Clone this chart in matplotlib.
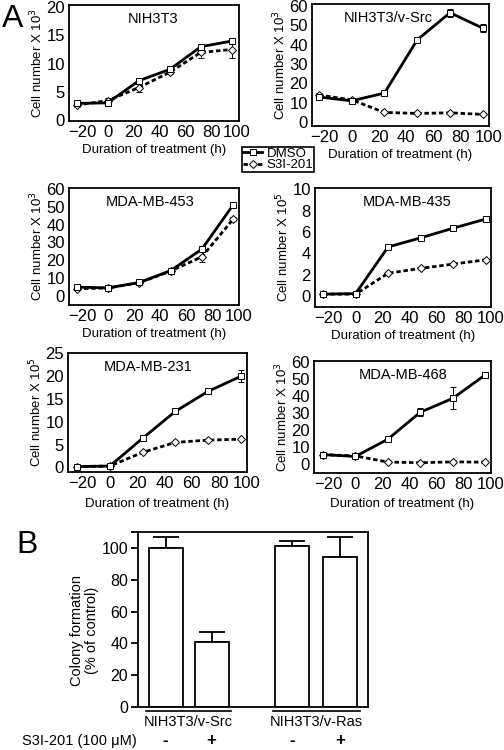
import matplotlib
matplotlib.use("Agg")
import matplotlib.pyplot as plt
from matplotlib.lines import Line2D
import matplotlib.transforms as mtransforms

plt.rcParams['font.family'] = ['Liberation Sans', 'DejaVu Sans']

# ---------------- data ----------------
hours = [-24, 0, 24, 48, 72, 96]

titles = ["NIH3T3", "NIH3T3/v-Src", "MDA-MB-453", "MDA-MB-435", "MDA-MB-231", "MDA-MB-468"]
exponents = [3, 3, 3, 5, 5, 3]

dmso_nih = [3.0, 3.1, 7.0, 9.0, 13.0, 14.0]
dmso_nih_err = [0.3, 0.5, 0.4, 0.3, 0.5, 0.3]
s3i_nih = [2.7, 3.5, 5.8, 8.5, 12.0, 12.5]
s3i_nih_err = [0.3, 0.5, 0.8, 0.4, 1.0, 1.5]

dmso_src = [13.0, 11.0, 15.0, 42.5, 56.5, 48.5]
dmso_src_err = [1.0, 1.0, 1.0, 1.0, 2.0, 2.0]
s3i_src = [14.0, 11.5, 5.0, 4.5, 4.8, 4.0]
s3i_src_err = [1.0, 0.5, 0.5, 0.3, 0.5, 0.5]

dmso_453 = [5.0, 4.6, 7.6, 14.2, 26.3, 51.0]
dmso_453_err = [0.5, 0.5, 0.5, 0.5, 1.0, 1.0]
s3i_453 = [4.1, 4.5, 7.5, 14.0, 22.0, 43.0]
s3i_453_err = [0.5, 0.5, 0.5, 0.5, 3.0, 1.0]

dmso_435 = [0.2, 0.25, 4.6, 5.45, 6.35, 7.2]
dmso_435_err = [0.05, 0.05, 0.1, 0.15, 0.1, 0.15]
s3i_435 = [0.2, 0.2, 2.15, 2.6, 3.0, 3.4]
s3i_435_err = [0.05, 0.05, 0.1, 0.1, 0.1, 0.1]

dmso_231 = [0.2, 0.3, 6.4, 12.3, 16.7, 20.0]
dmso_231_err = [0.2, 0.2, 0.5, 0.3, 0.3, 1.3]
s3i_231 = [0.2, 0.3, 3.3, 5.5, 6.0, 6.2]
s3i_231_err = [0.1, 0.1, 0.2, 0.2, 0.2, 0.2]

dmso_468 = [5.3, 4.2, 14.4, 30.4, 38.6, 52.5]
dmso_468_err = [0.5, 1.5, 1.0, 2.5, 6.5, 1.0]
s3i_468 = [5.3, 4.5, 0.9, 0.5, 1.0, 0.8]
s3i_468_err = [0.3, 0.3, 0.3, 0.3, 0.3, 0.3]

dmso_all = [dmso_nih, dmso_src, dmso_453, dmso_435, dmso_231, dmso_468]
dmso_err_all = [dmso_nih_err, dmso_src_err, dmso_453_err, dmso_435_err, dmso_231_err, dmso_468_err]
s3i_all = [s3i_nih, s3i_src, s3i_453, s3i_435, s3i_231, s3i_468]
s3i_err_all = [s3i_nih_err, s3i_src_err, s3i_453_err, s3i_435_err, s3i_231_err, s3i_468_err]

xticks_A = [-20, 0, 20, 40, 60, 80, 100]
yticks_all = [[0, 5, 10, 15, 20], [0, 10, 20, 30, 40, 50, 60], [0, 10, 20, 30, 40, 50, 60],
              [0, 2, 4, 6, 8, 10], [0, 5, 10, 15, 20, 25], [0, 10, 20, 30, 40, 50, 60]]

# panel B
groups = ["NIH3T3/v-Src", "NIH3T3/v-Ras"]
treat = ["-", "+", "-", "+"]
colony = [100, 41, 101, 94.5]
colony_err = [7, 6, 3.5, 12.5]
yticks_B = [0, 20, 40, 60, 80, 100]

# ---------------- layout ----------------
W, H = 504, 750
fig = plt.figure(figsize=(W / 100, H / 100), dpi=100)

def px_axes(l, t, r, b):
    return fig.add_axes([l / W, 1 - b / H, (r - l) / W, (b - t) / H])

boxes = [(69, 5, 239, 121), (312, 4, 489, 126),
         (69, 188, 239, 305), (315, 188, 491, 307),
         (68, 353, 247, 472), (314, 361, 491, 473)]
xlims = [(-30, 101.5), (-29, 100.5), (-30, 100.5), (-30, 99.7), (-30.6, 100.4), (-30.6, 100.4)]
ylims = [(-0.1, 20.35), (-2, 61), (-5, 60.5), (-1, 10.1), (-1, 25.1), (-5.6, 60.8)]
title_cx = [153, 388, 150, 407, 148, 403]
xlabel_pad = [3, 3, 3, 3, 5, 4]

for i in range(6):
    ax = px_axes(*boxes[i])
    ax.errorbar(hours, s3i_all[i], yerr=s3i_err_all[i], color='black', lw=2.0,
                ls=(0, (1.6, 1.0)), marker='D', markersize=3.6, mfc='white', mec='black',
                mew=0.7, ecolor='black', elinewidth=0.7, capsize=2.5, capthick=0.7, zorder=3)
    ax.errorbar(hours, dmso_all[i], yerr=dmso_err_all[i], color='black', lw=2.0,
                ls='-', marker='s', markersize=4.2, mfc='white', mec='black',
                mew=0.7, ecolor='black', elinewidth=0.7, capsize=2.5, capthick=0.7, zorder=4)
    ax.set_xlim(*xlims[i])
    ax.set_ylim(*ylims[i])
    ax.set_xticks(xticks_A)
    ax.set_yticks(yticks_all[i])
    ax.tick_params(axis='both', length=0, labelsize=12)
    ax.tick_params(axis='x', pad=3)
    ax.tick_params(axis='y', pad=3)
    for s in ax.spines.values():
        s.set_linewidth(1.3)
    l, t, r, b = boxes[i]
    ax.text((title_cx[i] - l) / (r - l), 0.94, titles[i], transform=ax.transAxes,
            ha='center', va='top', fontsize=10.5)
    ax.set_xlabel("Duration of treatment (h)", fontsize=9.5, labelpad=xlabel_pad[i])
    ax.set_ylabel("Cell number X 10$^{%d}$" % exponents[i], fontsize=9.5, labelpad=1)

# legend
handles = [Line2D([], [], color='black', lw=2.0, ls='-', marker='s', markersize=4.2,
                  mfc='white', mec='black', mew=0.7),
           Line2D([], [], color='black', lw=2.0, ls=(0, (1.6, 1.0)), marker='D', markersize=3.6,
                  mfc='white', mec='black', mew=0.7)]
leg = fig.legend(handles, ["DMSO", "S3I-201"], loc='upper left',
                 bbox_to_anchor=(242 / W, 1 - 147 / H), fontsize=9.5, frameon=True,
                 fancybox=False, edgecolor='black', framealpha=1, borderpad=0.05,
                 handlelength=1.5, handletextpad=0.3, labelspacing=-0.05, borderaxespad=0)
leg.get_frame().set_linewidth(1.2)

# panel B
axB = px_axes(138, 532, 368, 707)
pos = [1, 2, 3.75, 4.8]
axB.bar(pos, colony, width=0.74, color='white', edgecolor='black', linewidth=1.3, zorder=2)
axB.errorbar(pos, colony, yerr=[[0] * 4, colony_err], fmt='none', ecolor='black',
             elinewidth=1.3, capsize=9.2, capthick=1.3, zorder=1)
axB.set_xlim(0.4, 5.4)
axB.set_ylim(0, 110)
axB.set_yticks(yticks_B + [110])
axB.set_yticklabels([str(v) for v in yticks_B] + [""])
axB.set_xticks([])
axB.tick_params(axis='y', length=5, width=1.3, labelsize=11.5, pad=2)
for s in axB.spines.values():
    s.set_linewidth(1.3)
axB.set_ylabel("Colony formation\n(% of control)", fontsize=10.5, linespacing=1.05)
axB.yaxis.set_label_coords((99 - 138) / 230, (707 - 630) / 175)

trans = mtransforms.blended_transform_factory(axB.transData, axB.transAxes)
half = 0.37
for g, (a, b) in enumerate([(0, 1), (2, 3)]):
    axB.plot([pos[a] - half - 0.05, pos[b] + half + 0.05], [-0.025, -0.025], color='black',
             lw=1.2, transform=trans, clip_on=False)
    axB.text((pos[a] + pos[b]) / 2, -0.045, groups[g], transform=trans, ha='center',
             va='top', fontsize=10.5)
for p, t in zip(pos, treat):
    axB.text(p, -(740 - 707) / 175, t, transform=trans, ha='center', va='center',
             fontsize=12, fontweight='bold')
fig.text(22 / W, 1 - 741 / H, "S3I-201 (100 μM)", ha='left', va='center', fontsize=10.5)

# panel letters
fig.text(2 / W, 1 - 4 / H, "A", ha='left', va='top', fontsize=23)
fig.text(16 / W, 1 - 530 / H, "B", ha='left', va='top', fontsize=23)

fig.savefig("out.png", dpi=100)
